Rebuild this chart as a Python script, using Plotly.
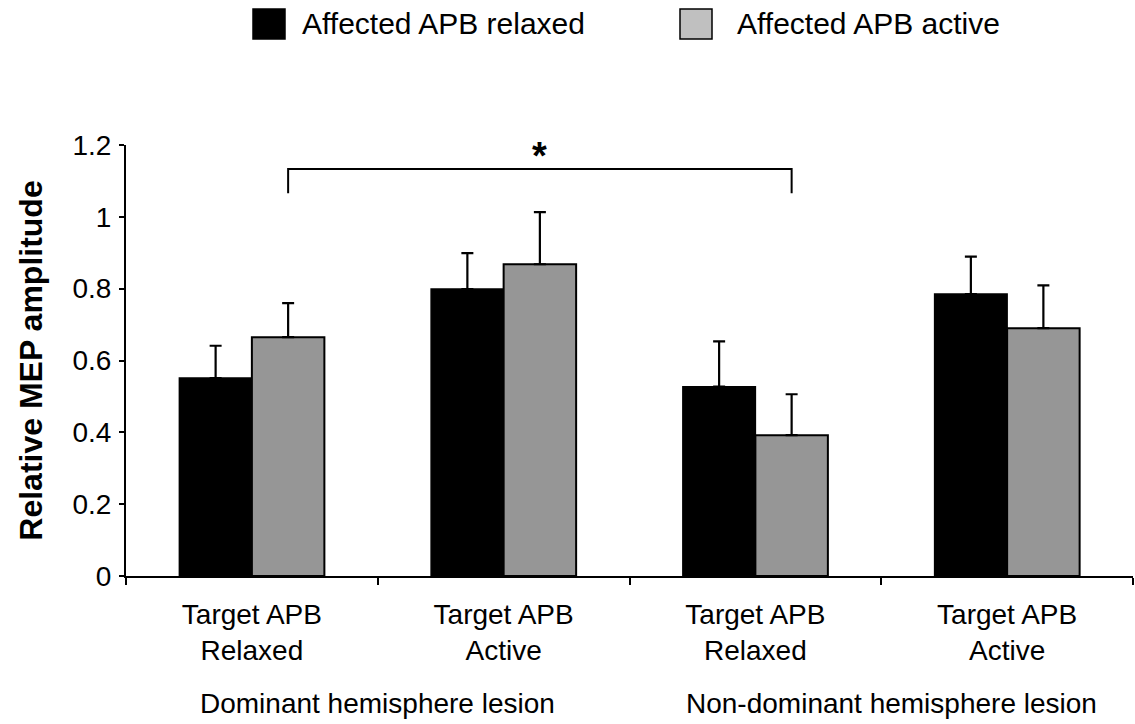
import plotly.graph_objects as go

# ---------------- data ----------------
conditions = ["Target APB<br>Relaxed", "Target APB<br>Active",
              "Target APB<br>Relaxed", "Target APB<br>Active"]
lesion_groups = ["Dominant hemisphere lesion", "Non-dominant hemisphere lesion"]
series_names = ["Affected APB relaxed", "Affected APB active"]
relaxed_vals = [0.551, 0.799, 0.527, 0.785]
relaxed_err = [0.090, 0.100, 0.126, 0.104]
active_vals = [0.665, 0.868, 0.392, 0.690]
active_err = [0.095, 0.145, 0.114, 0.119]
y_ticks = [0, 0.2, 0.4, 0.6, 0.8, 1.0, 1.2]
y_tick_labels = ["0", "0.2", "0.4", "0.6", "0.8", "1", "1.2"]
y_title = "Relative MEP amplitude"
sig_mark = "*"
# significance bracket between the two "Relaxed" target conditions (active bars)
sig_from, sig_to = 0, 2
sig_top, sig_leg = 1.133, 1.066

# ---------------- style ----------------
FONT = "Arial, Liberation Sans, sans-serif"
BLACK = "#000000"
GRAY = "#969696"
LEGEND_GRAY = "#c0c0c0"
BARGAP = 0.424

x_pos = list(range(len(conditions)))

fig = go.Figure()
fig.add_trace(go.Bar(
    x=x_pos, y=relaxed_vals, name=series_names[0],
    marker=dict(color=BLACK, line=dict(color=BLACK, width=1.5)),
    error_y=dict(type="data", symmetric=False, array=relaxed_err,
                 arrayminus=[0] * len(relaxed_err),
                 color=BLACK, thickness=2.2, width=6),
    showlegend=False,
))
fig.add_trace(go.Bar(
    x=x_pos, y=active_vals, name=series_names[1],
    marker=dict(color=GRAY, line=dict(color=BLACK, width=2)),
    error_y=dict(type="data", symmetric=False, array=active_err,
                 arrayminus=[0] * len(active_err),
                 color=BLACK, thickness=2.2, width=6),
    showlegend=False,
))

# significance bracket over the "active" bars
off = (1 - BARGAP) / 4
xa, xb = sig_from + off, sig_to + off
shapes = [dict(type="path", xref="x", yref="y",
               path=f"M {xa},{sig_leg} L {xa},{sig_top} L {xb},{sig_top} L {xb},{sig_leg}",
               line=dict(color=BLACK, width=2))]

# layout geometry
W, H = 1135, 724
ML, MR, MT, MB = 126, 2, 145, 148
pw, ph = W - ML - MR, H - MT - MB


def px_x(p):
    return (p - ML) / pw


def px_y(p):
    return (H - MB - p) / ph


# manual legend (paper coords)
legend_items = [
    (series_names[0], BLACK, 253, 300),
    (series_names[1], LEGEND_GRAY, 680, 735),
]
annotations = []
for name, col, sx, tx in legend_items:
    shapes.append(dict(type="rect", xref="paper", yref="paper",
                       x0=px_x(sx), x1=px_x(sx + 32), y0=px_y(39), y1=px_y(9),
                       fillcolor=col, line=dict(color=BLACK, width=1.5)))
    annotations.append(dict(xref="paper", yref="paper", x=px_x(tx), y=px_y(24),
                            xanchor="left", yanchor="middle", showarrow=False,
                            text=name, font=dict(family=FONT, size=30, color=BLACK)))

# group labels under the conditions
group_centers_px = [377, 891]
for g, cx in zip(lesion_groups, group_centers_px):
    annotations.append(dict(xref="paper", yref="paper", x=px_x(cx), y=px_y(703),
                            xanchor="center", yanchor="middle", showarrow=False,
                            text=g, font=dict(family=FONT, size=28, color=BLACK)))

annotations.append(dict(xref="x", yref="y", x=(xa + xb) / 2, y=sig_top,
                        xanchor="center", yanchor="bottom", showarrow=False,
                        text=f"<b>{sig_mark}</b>", yshift=-10,
                        font=dict(family=FONT, size=38, color=BLACK)))

fig.update_layout(
    width=W, height=H,
    margin=dict(l=ML, r=MR, t=MT, b=MB, pad=0),
    paper_bgcolor="white", plot_bgcolor="white",
    barmode="group", bargap=BARGAP, bargroupgap=0,
    font=dict(family=FONT, color=BLACK),
    shapes=shapes, annotations=annotations,
    showlegend=False,
)
fig.update_xaxes(
    range=[-0.5, len(conditions) - 0.5],
    tickmode="array", tickvals=x_pos, ticktext=conditions,
    ticks="", ticklabelstandoff=12,
    minor=dict(tick0=-0.5, dtick=1, ticks="outside", ticklen=7, tickwidth=2,
               tickcolor=BLACK, showgrid=False),
    showline=True, linecolor=BLACK, linewidth=2,
    showgrid=False, zeroline=False,
    tickfont=dict(family=FONT, size=28, color=BLACK),
    automargin=False,
)
fig.update_yaxes(
    range=[0, 1.2], tickmode="array", tickvals=y_ticks, ticktext=y_tick_labels,
    showline=True, linecolor=BLACK, linewidth=2,
    ticks="outside", ticklen=5, tickwidth=2, tickcolor=BLACK,
    ticklabelstandoff=2,
    showgrid=False, zeroline=False,
    tickfont=dict(family=FONT, size=28, color=BLACK),
    title=dict(text=f"<b>{y_title}</b>", font=dict(family=FONT, size=32, color=BLACK), standoff=20),
    automargin=False,
)

fig.write_html("out.html")
